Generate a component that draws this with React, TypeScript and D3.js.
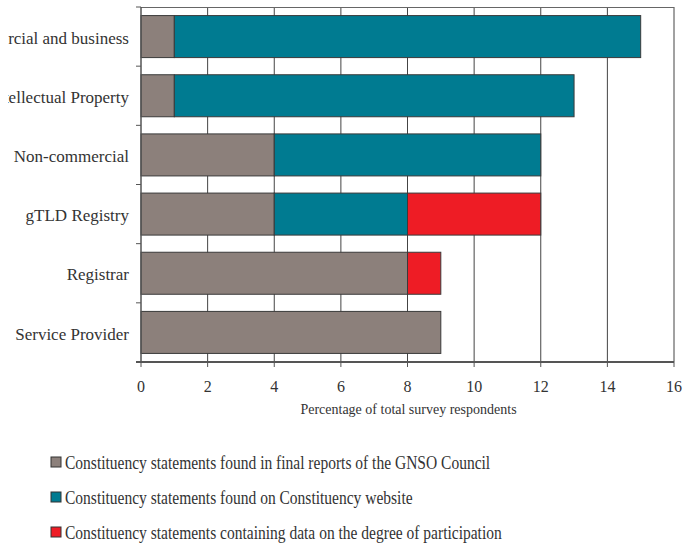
import React from "react";
import * as d3 from "d3";

const categories = ["Commercial and business", "Intellectual Property", "Non-commercial", "gTLD Registry", "Registrar", "Service Provider"];
const finalReports = [1, 1, 4, 4, 8, 9];
const website = [14, 12, 8, 4, 0, 0];
const participation = [0, 0, 0, 4, 1, 0];
const seriesNames = [
  "Constituency statements found in final reports of the GNSO Council",
  "Constituency statements found on Constituency website",
  "Constituency statements containing data on the degree of participation",
];
const seriesColors = ["#8c807b", "#007b91", "#ee1c25"];
const xTicks = [0, 2, 4, 6, 8, 10, 12, 14, 16];
const xTitle = "Percentage of total survey respondents";

export default function App() {
  const W = 685, H = 550;
  const left = 141, right = 674, top = 7, bottom = 362;
  const x = d3.scaleLinear().domain([0, 16]).range([left, right]);
  const y = d3.scaleBand().domain(categories).range([top, bottom]).paddingInner(0.29).paddingOuter(0.145);
  const yb = d3.scaleBand().domain(categories).range([top, bottom]);
  const rows = categories.map((c, i) => ({ c, f: finalReports[i], w: website[i], p: participation[i] }));
  const stack = d3.stack<any>().keys(["f", "w", "p"])(rows as any);
  const font = "Liberation Serif, Times New Roman, Times, serif";
  return (
    <svg width={W} height={H} style={{ position: "absolute", left: 0, top: 0, background: "#fff", fontFamily: font }}>
      <defs>
        <clipPath id="labelClip">
          <rect x={8} y={0} width={W - 8} height={H} />
        </clipPath>
      </defs>
      {xTicks.slice(1).map((t) => (
        <line key={t} x1={x(t)} x2={x(t)} y1={top} y2={bottom} stroke="#444" strokeWidth={1} />
      ))}
      <line x1={left} x2={right} y1={top + 0.5} y2={top + 0.5} stroke="#666" />
      {stack.map((s, si) =>
        s.map((d: any, i: number) =>
          d[1] - d[0] > 0 ? (
            <rect key={si + "-" + i} x={x(d[0])} y={y(categories[i])!} width={x(d[1]) - x(d[0])} height={y.bandwidth()}
              fill={seriesColors[si]} stroke="#3a3a3a" strokeWidth={1} />
          ) : null
        )
      )}
      <line x1={left} x2={left} y1={top} y2={bottom} stroke="#555" strokeWidth={1.5} />
      {categories.map((c, i) => (
        <line key={"yt" + i} x1={left - 5} x2={left} y1={yb(c)!} y2={yb(c)!} stroke="#555" />
      ))}
      <line x1={left - 5} x2={right} y1={bottom} y2={bottom} stroke="#555" strokeWidth={2} />
      {xTicks.map((t) => (
        <line key={"xt" + t} x1={x(t)} x2={x(t)} y1={bottom} y2={bottom + 5} stroke="#555" />
      ))}
      <g clipPath="url(#labelClip)">
        {categories.map((c) => (
          <text key={"yl" + c} x={129} y={y(c)! + y.bandwidth() / 2} dy="0.42em" textAnchor="end" fontSize={17} fill="#333">{c}</text>
        ))}
      </g>
      {xTicks.map((t) => (
        <text key={"xl" + t} x={x(t)} y={392} textAnchor="middle" fontSize={16} fill="#333">{t}</text>
      ))}
      <text x={(left + right) / 2 + 1} y={414} textAnchor="middle" fontSize={14} fill="#333">{xTitle}</text>
      {seriesNames.map((n, i) => (
        <g key={n} transform={`translate(51, ${462 + i * 35})`}>
          <rect x={0} y={-5} width={10} height={10} fill={seriesColors[i]} stroke="#333" strokeWidth={1} />
          <text transform="translate(14,0) scale(0.796,1)" x={0} y={0} dy="0.36em" fontSize={19.5} fill="#333">{n}</text>
        </g>
      ))}
    </svg>
  );
}
